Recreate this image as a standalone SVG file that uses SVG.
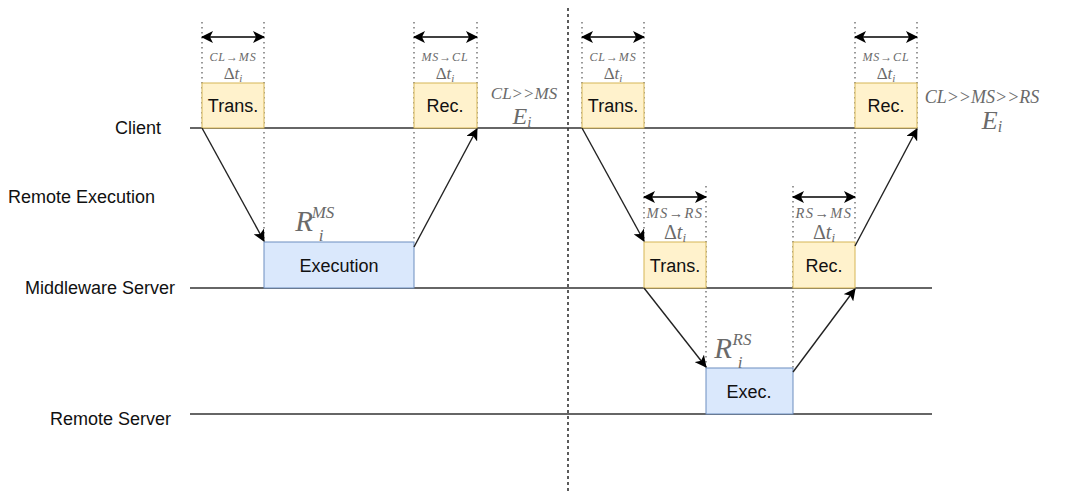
<svg xmlns="http://www.w3.org/2000/svg" width="1073" height="493" viewBox="0 0 1073 493">
  <style>
    .lane { stroke: #333; stroke-width: 1.3; fill: none; }
    .guide { stroke: #555; stroke-width: 1.2; stroke-dasharray: 1.5 3.5; fill: none; }
    .split { stroke: #333; stroke-width: 1.6; stroke-dasharray: 3 3; fill: none; }
    .span { stroke: #000; stroke-width: 1.5; fill: none; marker-start: url(#head); marker-end: url(#head); }
    .flow { stroke: #222; stroke-width: 1.4; fill: none; marker-end: url(#head); }
    .io { fill: #fff2cc; stroke: #d6b656; stroke-width: 1; }
    .run { fill: #dae8fc; stroke: #6c8ebf; stroke-width: 1; }
    .lbl { font-family: "Liberation Sans", Arial, sans-serif; font-size: 18px; fill: #111; }
    .box { font-family: "Liberation Sans", Arial, sans-serif; font-size: 18px; fill: #111; text-anchor: middle; }
    .math { font-family: "Liberation Serif", "Times New Roman", serif; fill: #6a6a6a; text-anchor: middle; }
    .it { font-style: italic; }
  </style>
  <defs>
    <marker id="head" viewBox="0 0 12 12" refX="11" refY="6" markerWidth="12" markerHeight="12" markerUnits="userSpaceOnUse" orient="auto-start-reverse">
      <path d="M0,0 L12,6 L0,12 L3,6 Z" fill="#000"/>
    </marker>
  </defs>
  <rect width="1073" height="493" fill="#fff"/>

  <!-- lifelines -->
  <g id="lanes">
    <line class="lane" x1="190" y1="128" x2="917" y2="128"/>
    <line class="lane" x1="190" y1="288" x2="932" y2="288"/>
    <line class="lane" x1="190" y1="414" x2="932" y2="414"/>
    <text class="lbl" x="161" y="134" text-anchor="end">Client</text>
    <text class="lbl" x="8" y="203">Remote Execution</text>
    <text class="lbl" x="175" y="294" text-anchor="end">Middleware Server</text>
    <text class="lbl" x="171" y="425" text-anchor="end">Remote Server</text>
  </g>

  <!-- timing guides -->
  <g id="guides">
    <line class="guide" x1="202" y1="22" x2="202" y2="128"/>
    <line class="guide" x1="264" y1="22" x2="264" y2="242"/>
    <line class="guide" x1="414" y1="22" x2="414" y2="242"/>
    <line class="guide" x1="477" y1="22" x2="477" y2="128"/>
    <line class="guide" x1="582" y1="22" x2="582" y2="128"/>
    <line class="guide" x1="644" y1="22" x2="644" y2="242"/>
    <line class="guide" x1="706" y1="186" x2="706" y2="368"/>
    <line class="guide" x1="793" y1="186" x2="793" y2="368"/>
    <line class="guide" x1="855" y1="22" x2="855" y2="242"/>
    <line class="guide" x1="917" y1="22" x2="917" y2="128"/>
    <line class="split" x1="568" y1="8" x2="568" y2="493"/>
  </g>

  <!-- first scenario: client to middleware -->
  <g id="c-trans-1">
    <rect class="io" x="202" y="83" width="62" height="45"/>
    <text class="box" x="233" y="112">Trans.</text>
  </g>
  <g id="ms-exec">
    <rect class="run" x="264" y="242" width="150" height="46"/>
    <text class="box" x="339" y="272">Execution</text>
  </g>
  <g id="c-rec-1">
    <rect class="io" x="414" y="83" width="63" height="45"/>
    <text class="box" x="445" y="112">Rec.</text>
  </g>

  <!-- second scenario: client to middleware to remote -->
  <g id="c-trans-2">
    <rect class="io" x="582" y="83" width="62" height="45"/>
    <text class="box" x="613" y="112">Trans.</text>
  </g>
  <g id="ms-trans">
    <rect class="io" x="644" y="242" width="62" height="46"/>
    <text class="box" x="675" y="272">Trans.</text>
  </g>
  <g id="rs-exec">
    <rect class="run" x="706" y="368" width="87" height="46"/>
    <text class="box" x="749" y="398">Exec.</text>
  </g>
  <g id="ms-rec">
    <rect class="io" x="793" y="242" width="62" height="46"/>
    <text class="box" x="824" y="272">Rec.</text>
  </g>
  <g id="c-rec-2">
    <rect class="io" x="855" y="83" width="62" height="45"/>
    <text class="box" x="886" y="112">Rec.</text>
  </g>

  <!-- durations -->
  <g id="spans">
    <line class="span" x1="202" y1="37" x2="264" y2="37"/>
    <line class="span" x1="414" y1="37" x2="477" y2="37"/>
    <line class="span" x1="582" y1="37" x2="644" y2="37"/>
    <line class="span" x1="855" y1="37" x2="917" y2="37"/>
    <line class="span" x1="644" y1="197" x2="706" y2="197"/>
    <line class="span" x1="793" y1="197" x2="855" y2="197"/>
  </g>

  <g id="span-labels">
    <text class="math it" x="233" y="61" font-size="12" letter-spacing="0.9">CL→MS</text>
    <text class="math" x="233" y="79" font-size="17">Δ<tspan class="it">t</tspan><tspan class="it" font-size="11" dy="3">i</tspan></text>
    <text class="math it" x="445" y="61" font-size="12" letter-spacing="0.9">MS→CL</text>
    <text class="math" x="445" y="79" font-size="17">Δ<tspan class="it">t</tspan><tspan class="it" font-size="11" dy="3">i</tspan></text>
    <text class="math it" x="613" y="61" font-size="12" letter-spacing="0.9">CL→MS</text>
    <text class="math" x="613" y="79" font-size="17">Δ<tspan class="it">t</tspan><tspan class="it" font-size="11" dy="3">i</tspan></text>
    <text class="math it" x="886" y="61" font-size="12" letter-spacing="0.9">MS→CL</text>
    <text class="math" x="886" y="79" font-size="17">Δ<tspan class="it">t</tspan><tspan class="it" font-size="11" dy="3">i</tspan></text>
    <text class="math it" x="675" y="218" font-size="14.5" letter-spacing="1.4">MS→RS</text>
    <text class="math" x="675" y="239" font-size="20">Δ<tspan class="it">t</tspan><tspan class="it" font-size="13" dy="3">i</tspan></text>
    <text class="math it" x="824" y="218" font-size="14.5" letter-spacing="1.4">RS→MS</text>
    <text class="math" x="824" y="239" font-size="20">Δ<tspan class="it">t</tspan><tspan class="it" font-size="13" dy="3">i</tspan></text>
  </g>

  <!-- energy and response labels -->
  <g id="totals">
    <text class="math it" x="524" y="99" font-size="17">CL&gt;&gt;MS</text>
    <text class="math it" x="522" y="124" font-size="24">E<tspan font-size="15" dy="3">i</tspan></text>
    <text class="math it" x="982" y="103" font-size="18">CL&gt;&gt;MS&gt;&gt;RS</text>
    <text class="math it" x="992" y="129" font-size="26">E<tspan font-size="16" dy="3">i</tspan></text>
    <text class="math it" x="304" y="231" font-size="29" text-anchor="start">R</text>
    <text class="math it" x="323" y="218" font-size="17" text-anchor="start">MS</text>
    <text class="math it" x="321" y="241" font-size="17" text-anchor="start">i</text>
    <text class="math it" x="723" y="358" font-size="29" text-anchor="start">R</text>
    <text class="math it" x="742" y="345" font-size="17" text-anchor="start">RS</text>
    <text class="math it" x="740" y="368" font-size="17" text-anchor="start">i</text>
  </g>

  <!-- message flows -->
  <g id="connectors">
    <line class="flow" x1="202" y1="128" x2="264" y2="241"/>
    <line class="flow" x1="414" y1="247" x2="477" y2="129"/>
    <line class="flow" x1="582" y1="128" x2="644" y2="241"/>
    <line class="flow" x1="644" y1="288" x2="706" y2="367"/>
    <line class="flow" x1="793" y1="372" x2="855" y2="289"/>
    <line class="flow" x1="855" y1="246" x2="917" y2="129"/>
  </g>
</svg>
